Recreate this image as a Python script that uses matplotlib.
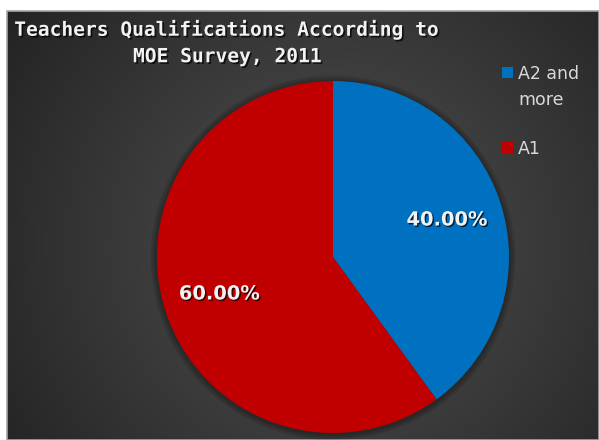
import numpy as np
import matplotlib
matplotlib.use("Agg")
import matplotlib.pyplot as plt
import matplotlib.patheffects as pe
from matplotlib.patches import Circle, Rectangle

# data
labels = ["A2 and\nmore", "A1"]
shares = [40.0, 60.0]
colors = ["#0070C0", "#C00000"]
title = "Teachers Qualifications According to\nMOE Survey, 2011"

W, H = 599, 440
fig = plt.figure(figsize=(W / 100, H / 100), dpi=100)
fig.patch.set_facecolor("white")

# dark panel with a radial gradient
px0, py0, pw, ph = 7, 0, 592, 429
bg = fig.add_axes([px0 / W, py0 / H, pw / W, ph / H])
yy, xx = np.mgrid[0:ph, 0:pw]
cx, cy = pw * 0.55, ph * 0.45
d = np.sqrt((xx - cx) ** 2 + (yy - cy) ** 2) / np.hypot(pw * 0.6, ph * 0.6)
shade = np.clip(0.32 - 0.20 * d, 0.10, 0.32)
img = np.dstack([shade, shade, shade])
bg.imshow(img, extent=[0, pw, 0, ph], origin="lower", aspect="auto")
bg.set_xlim(0, pw)
bg.set_ylim(0, ph)
bg.axis("off")
bg.add_patch(Rectangle((0, 0), pw, ph, fill=False, edgecolor="#a6a6a6",
                       linewidth=1.2, clip_on=False))

# pie
r = 176
pcx, pcy = 333, H - 257
ax = fig.add_axes([(pcx - r) / W, (pcy - r) / H, 2 * r / W, 2 * r / H])
for i, a in enumerate([0.10, 0.10, 0.12]):
    ax.add_patch(Circle((0.0, -0.005), 1.0 + 0.012 * (3 - i), color="black",
                        alpha=a, linewidth=0, clip_on=False))
wedges, texts, autotexts = ax.pie(
    shares, colors=colors, startangle=90, counterclock=False,
    autopct="%.2f%%", pctdistance=0.68, radius=1.0,
    wedgeprops=dict(linewidth=0),
    textprops=dict(color="#f2f2f2", fontsize=14, fontweight="bold"))
ax.set_xlim(-1.0, 1.0)
ax.set_ylim(-1.0, 1.0)
for w in wedges:
    w.set_clip_on(False)
for t in autotexts:
    t.set_path_effects([pe.withSimplePatchShadow(offset=(1, -1),
                                                 shadow_rgbFace="black", alpha=0.7)])

# title
fig.text(228 / W, 1 - 43 / H, title, ha="center", va="center",
         fontsize=14.1, fontweight="bold", family="DejaVu Sans Mono",
         color="#f2f2f2", linespacing=1.5,
         path_effects=[pe.withSimplePatchShadow(offset=(1.2, -1.2),
                                                shadow_rgbFace="black", alpha=0.7)])

# legend
leg_y = [73, 148]
for lab, col, y in zip(labels, colors, leg_y):
    fig.patches.append(Rectangle((502 / W, 1 - (y + 5) / H), 11 / W, 11 / H,
                                 transform=fig.transFigure, facecolor=col,
                                 edgecolor="none"))
    fig.text(518 / W, 1 - (y - 8) / H, lab, ha="left", va="top",
             fontsize=12.5, color="#d9d9d9", linespacing=1.55)

fig.savefig("out.png", dpi=100)
